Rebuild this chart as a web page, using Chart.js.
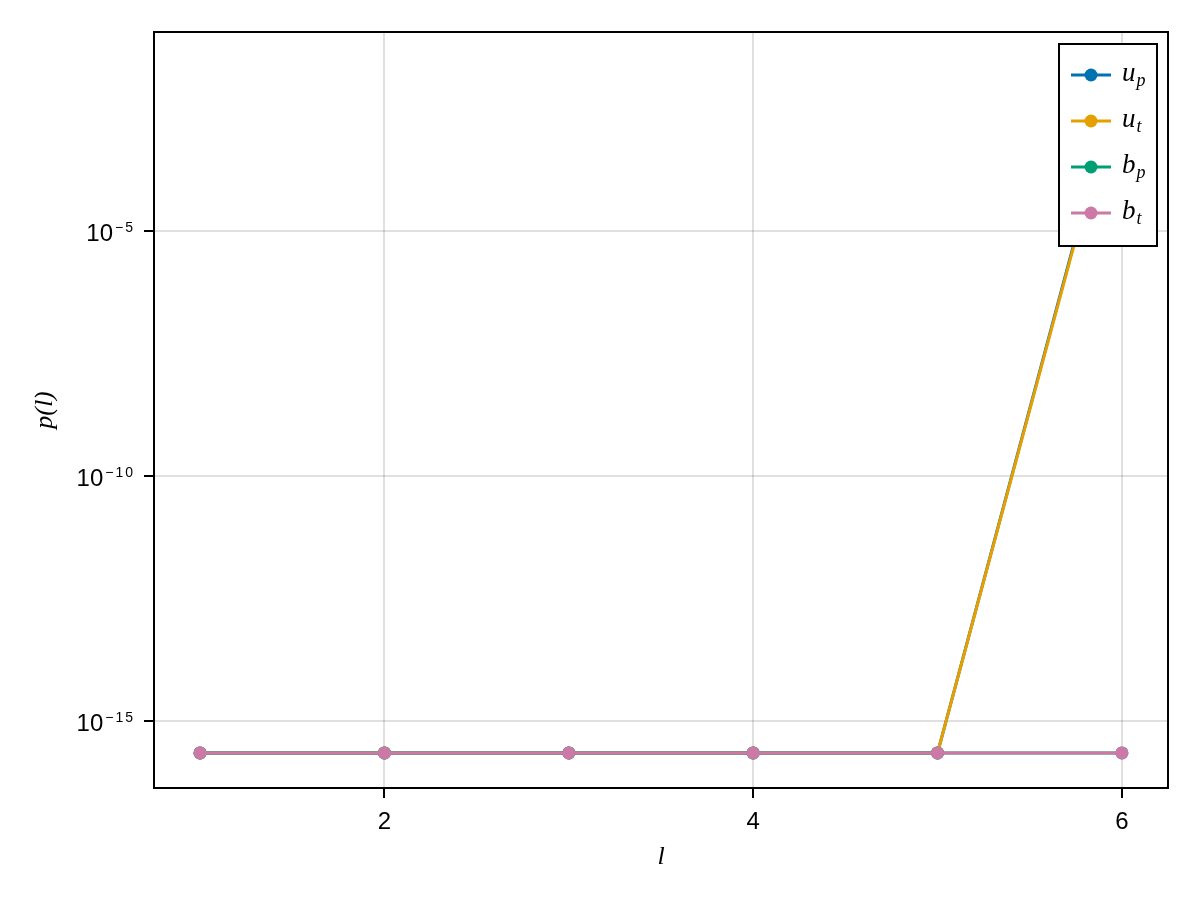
<!DOCTYPE html>
<html>
<head>
<meta charset="utf-8">
<script src="https://cdn.jsdelivr.net/npm/chart.js@4.4.1/dist/chart.umd.min.js"></script>
<style>
html,body{margin:0;padding:0;background:#fff;}
#wrap{width:1200px;height:900px;}
</style>
</head>
<body>
<div id="wrap"><canvas id="c" width="1200" height="900"></canvas></div>
<script>
// ---- data ----
const lValues = [1, 2, 3, 4, 5, 6];
const upValues = [2.22e-16, 2.22e-16, 2.22e-16, 2.22e-16, 2.22e-16, 2.5e-2];
const utValues = [2.22e-16, 2.22e-16, 2.22e-16, 2.22e-16, 2.22e-16, 2.2e-2];
const bpValues = [2.22e-16, 2.22e-16, 2.22e-16, 2.22e-16, 2.22e-16, 2.22e-16];
const btValues = [2.22e-16, 2.22e-16, 2.22e-16, 2.22e-16, 2.22e-16, 2.22e-16];
const seriesBase = ['u', 'u', 'b', 'b'];
const seriesSub = ['p', 't', 'p', 't'];
const seriesColors = ['#0072B2', '#E69F00', '#009E73', '#CC79A7'];
const xTickValues = [2, 4, 6];
const xTickLabels = ['2', '4', '6'];
const yTickValues = [1e-15, 1e-10, 1e-5];
const yTickBase = ['10', '10', '10'];
const yTickExponents = ['\u221215', '\u221210', '\u22125'];
const xAxisTitle = 'l';
const yAxisTitle = 'p(l)';

const seriesValues = [upValues, utValues, bpValues, btValues];

const datasets = seriesValues.map((vals, i) => ({
  label: seriesBase[i] + '_' + seriesSub[i],
  data: lValues.map((x, j) => ({x: x, y: vals[j]})),
  borderColor: seriesColors[i],
  backgroundColor: seriesColors[i],
  pointBackgroundColor: seriesColors[i],
  pointBorderWidth: 0,
  pointRadius: 6.5,
  borderWidth: 3,
  tension: 0,
  order: 4 - i
}));

const EXP_FONT = '14px "Liberation Sans", Arial, "DejaVu Sans", sans-serif';
const EXP_SPACING = '2px';
let expWidths = [];

function findTickIndex(v) {
  return yTickValues.findIndex(t => Math.abs(Math.log10(t) - Math.log10(v)) < 1e-6);
}

const framePlugin = {
  id: 'frame',
  afterDatasetsDraw(chart) {
    const a = chart.chartArea, ctx = chart.ctx;
    ctx.save();
    ctx.strokeStyle = '#000';
    ctx.lineWidth = 2;
    ctx.strokeRect(a.left, a.top, a.right - a.left, a.bottom - a.top);
    ctx.restore();
  }
};

// shift the "10" labels left so that base+exponent is right-aligned as a whole,
// then draw the superscript exponents next to them
const exponentPlugin = {
  id: 'exponents',
  beforeDraw(chart) {
    const s = chart.scales.y, ctx = chart.ctx;
    ctx.save();
    ctx.font = EXP_FONT;
    ctx.letterSpacing = EXP_SPACING;
    expWidths = yTickExponents.map(e => ctx.measureText(e).width);
    ctx.restore();
    const items = s.getLabelItems(chart.chartArea);
    items.forEach((it, i) => {
      const k = findTickIndex(s.ticks[i].value);
      if (k < 0 || it._shifted) return;
      const tr = it.options.translation;
      it.options.translation = [tr[0] - expWidths[k] - 1, tr[1]];
      it._shifted = true;
    });
  },
  afterDraw(chart) {
    const s = chart.scales.y, ctx = chart.ctx;
    ctx.save();
    ctx.fillStyle = '#000';
    ctx.font = EXP_FONT;
    ctx.letterSpacing = EXP_SPACING;
    ctx.textAlign = 'left';
    ctx.textBaseline = 'alphabetic';
    const right = chart.chartArea.left - 10 - 10;
    yTickValues.forEach((v, i) => {
      const py = s.getPixelForValue(v);
      ctx.fillText(yTickExponents[i], right - expWidths[i] + 1, py + 1);
    });
    ctx.restore();
  }
};

const legendPlugin = {
  id: 'insideLegend',
  afterDraw(chart) {
    const a = chart.chartArea, ctx = chart.ctx;
    const w = 98, h = 202;
    const x0 = a.right - 11 - w, y0 = a.top + 12;
    ctx.save();
    ctx.fillStyle = '#fff';
    ctx.fillRect(x0, y0, w, h);
    ctx.strokeStyle = '#000';
    ctx.lineWidth = 2;
    ctx.strokeRect(x0, y0, w, h);
    chart.data.datasets.forEach((ds, i) => {
      const cy = y0 + 31 + i * 46;
      ctx.strokeStyle = ds.borderColor;
      ctx.lineWidth = 3;
      ctx.beginPath();
      ctx.moveTo(x0 + 12, cy);
      ctx.lineTo(x0 + 52, cy);
      ctx.stroke();
      ctx.fillStyle = ds.borderColor;
      ctx.beginPath();
      ctx.arc(x0 + 32, cy, 6.5, 0, Math.PI * 2);
      ctx.fill();
      ctx.fillStyle = '#000';
      ctx.textBaseline = 'alphabetic';
      ctx.textAlign = 'left';
      ctx.font = 'italic 27px "Liberation Serif", "DejaVu Serif", serif';
      const base = seriesBase[i];
      ctx.fillText(base, x0 + 63, cy + 6);
      const bw = ctx.measureText(base).width;
      ctx.font = 'italic 18px "Liberation Serif", "DejaVu Serif", serif';
      ctx.fillText(seriesSub[i], x0 + 63 + bw + 1, cy + 11);
    });
    ctx.restore();
  }
};

const tickFont = {family: '"Liberation Sans", Arial, "DejaVu Sans", sans-serif', size: 24};
const titleFont = {family: '"Liberation Serif", "DejaVu Serif", serif', size: 26, style: 'italic'};

new Chart(document.getElementById('c'), {
  type: 'line',
  data: {datasets: datasets},
  plugins: [framePlugin, exponentPlugin, legendPlugin],
  options: {
    responsive: false,
    devicePixelRatio: 1,
    animation: false,
    layout: {padding: {left: 0, right: 32, top: 32, bottom: 0}},
    plugins: {legend: {display: false}, tooltip: {enabled: false}},
    scales: {
      x: {
        type: 'linear',
        min: 0.75,
        max: 6.25,
        afterBuildTicks: s => { s.ticks = xTickValues.map(v => ({value: v})); },
        afterFit: s => { s.height = 112; s.paddingLeft = 0; s.paddingRight = 0; },
        ticks: {
          callback: (v) => { const k = xTickValues.indexOf(v); return k >= 0 ? xTickLabels[k] : ''; },
          font: tickFont, color: '#000', padding: 10, maxRotation: 0, autoSkip: false
        },
        grid: {color: 'rgba(0,0,0,0.12)', lineWidth: 2, tickColor: '#000', tickLength: 10, tickWidth: 2},
        border: {display: false},
        title: {display: true, text: xAxisTitle, font: titleFont, color: '#000', padding: {top: 0, bottom: 27}}
      },
      y: {
        type: 'logarithmic',
        min: Math.pow(10, -16.37),
        max: Math.pow(10, -0.94),
        afterBuildTicks: s => { s.ticks = yTickValues.map(v => ({value: v})); },
        afterFit: s => { s.width = 154; s.paddingTop = 0; s.paddingBottom = 0; },
        ticks: {
          callback: (v) => { const k = findTickIndex(v); return k >= 0 ? yTickBase[k] : ''; },
          font: tickFont, color: '#000', padding: 10, labelOffset: 3, autoSkip: false
        },
        grid: {color: 'rgba(0,0,0,0.12)', lineWidth: 2, tickColor: '#000', tickLength: 10, tickWidth: 2},
        border: {display: false},
        title: {display: true, text: yAxisTitle, font: titleFont, color: '#000', padding: {top: 30, bottom: 0}}
      }
    }
  }
});
</script>
</body>
</html>
